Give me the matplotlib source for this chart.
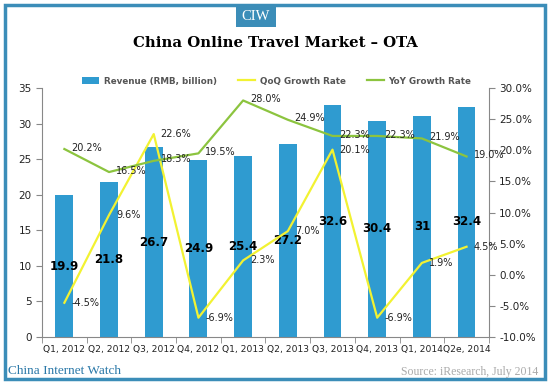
import numpy as np
import matplotlib
matplotlib.use('Agg')
import matplotlib.pyplot as plt
from matplotlib.patches import Rectangle

quarters = ["Q1, 2012", "Q2, 2012", "Q3, 2012", "Q4, 2012", "Q1, 2013",
            "Q2, 2013", "Q3, 2013", "Q4, 2013", "Q1, 2014", "Q2e, 2014"]
revenue = [19.9, 21.8, 26.7, 24.9, 25.4, 27.2, 32.6, 30.4, 31, 32.4]
revenue_labels = ["19.9", "21.8", "26.7", "24.9", "25.4", "27.2", "32.6", "30.4", "31", "32.4"]
qoq = [-4.5, 9.6, 22.6, -6.9, 2.3, 7.0, 20.1, -6.9, 1.9, 4.5]
yoy = [20.2, 16.5, 18.3, 19.5, 28.0, 24.9, 22.3, 22.3, 21.9, 19.0]

bar_col = '#2f9bd0'
qoq_col = '#f2f232'
yoy_col = '#8cc43f'
frame_col = '#3b8db8'
grey = '#888888'
txt = '#222222'

plt.rcParams['font.family'] = ['DejaVu Sans']

fig = plt.figure(figsize=(5.5, 3.84), dpi=100)

# outer frame + header
fig.patches.append(Rectangle((0.009, 0.012), 0.982, 0.976, transform=fig.transFigure,
                             fill=False, ec=frame_col, lw=2.5))
fig.patches.append(Rectangle((0.429, 0.93), 0.073, 0.058, transform=fig.transFigure,
                             fc=frame_col, ec='none'))
fig.text(0.4655, 0.958, "CIW", color='white', ha='center', va='center',
         family='Liberation Serif', fontsize=10.5)
fig.text(0.5, 0.887, "China Online Travel Market \u2013 OTA", ha='center', va='center',
         family='DejaVu Serif', weight='bold', fontsize=10.7, color='black')
fig.text(0.015, 0.034, "China Internet Watch", color='#2a78a8', ha='left', va='center',
         family='Liberation Serif', fontsize=9.5)
fig.text(0.978, 0.031, "Source: iResearch, July 2014", color='#aaaaaa', ha='right', va='center',
         family='Liberation Serif', fontsize=8.5)

ax = fig.add_axes([0.0764, 0.1224, 0.8125, 0.6484])
x = np.arange(len(quarters))
bars = ax.bar(x, revenue, width=0.4, color=bar_col, label="Revenue (RMB, billion)", zorder=1)
ax.set_xlim(-0.5, 9.5)
ax.set_ylim(0, 35)
ax.set_yticks(np.arange(0, 36, 5))
ax.set_xticks(x)
ax.set_xticklabels(quarters)
ax.set_xticks(np.arange(-0.5, 10, 1), minor=True)
ax.tick_params(axis='x', which='major', length=0, labelsize=6.6, colors=txt, pad=6)
ax.tick_params(axis='x', which='minor', length=4, color=grey)
ax.tick_params(axis='y', labelsize=7.5, colors=txt, length=4, color=grey)
for s in ['top', 'right']:
    ax.spines[s].set_visible(False)
for s in ['left', 'bottom']:
    ax.spines[s].set_color(grey)

for xi, v, lab in zip(x, revenue, revenue_labels):
    ax.text(xi, v / 2, lab, ha='center', va='center', weight='bold', fontsize=8.5,
            color='black', zorder=5)

ax2 = ax.twinx()
ax2.set_ylim(-10, 30)
ax2.set_yticks(np.arange(-10, 31, 5))
ax2.set_yticklabels(["%.1f%%" % t for t in np.arange(-10, 31, 5)])
ax2.tick_params(axis='y', labelsize=7.5, colors=txt, length=4, color=grey)
for s in ['top', 'left', 'bottom']:
    ax2.spines[s].set_visible(False)
ax2.spines['right'].set_color(grey)

l1, = ax2.plot(x, qoq, color=qoq_col, lw=1.6, label="QoQ Growth Rate", zorder=3)
l2, = ax2.plot(x, yoy, color=yoy_col, lw=1.6, label="YoY Growth Rate", zorder=3)

for xi, v in zip(x, qoq):
    ax2.annotate("%.1f%%" % v, (xi, v), xytext=(5, 0), textcoords='offset points',
                 ha='left', va='center', fontsize=7, color=txt, zorder=6)
for xi, v in zip(x, yoy):
    ax2.annotate("%.1f%%" % v, (xi, v), xytext=(5, 1), textcoords='offset points',
                 ha='left', va='center', fontsize=7, color=txt, zorder=6)

fig.legend([bars, l1, l2], ["Revenue (RMB, billion)", "QoQ Growth Rate", "YoY Growth Rate"],
           loc='center', bbox_to_anchor=(0.503, 0.789), ncol=3, frameon=False,
           prop={'size': 6.3, 'weight': 'bold'}, handlelength=2.0, columnspacing=2.4,
           handletextpad=0.5, labelcolor='#555555')

plt.savefig("out.png", dpi=100)
